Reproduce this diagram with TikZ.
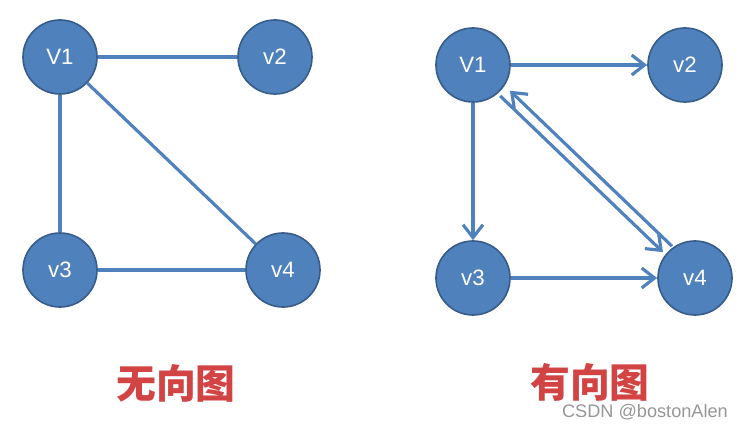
\documentclass[tikz,border=0pt]{standalone}
\usepackage{fontspec}
\setmainfont{Liberation Sans}
\newfontfamily\cjk{Noto Sans CJK SC}
\usetikzlibrary{arrows.meta,calc}
\definecolor{vfill}{RGB}{79,129,189}
\definecolor{vborder}{RGB}{56,93,138}
\definecolor{titlered}{RGB}{210,68,68}
\definecolor{markgray}{RGB}{150,150,150}
\tikzset{
  vtx/.style={circle, fill=vfill, draw=vborder, line width=1.4pt,
    minimum size=2.22cm, inner sep=0pt, text=white,
    font=\fontsize{19}{22}\selectfont},
  edge/.style={vfill, line width=2.7pt},
  arc/.style={edge, -{Straight Barb[length=11pt, width=17pt]}},
  caption/.style={titlered, font=\cjk\bfseries\fontsize{34}{40}\selectfont},
}

\begin{document}
\begin{tikzpicture}[x=0.03cm, y=-0.03cm]
    \useasboundingbox (0,0) rectangle (743,429);
    % Undirected graph
    \node[vtx] (a1) at (60,57) {V1};
    \node[vtx] (a2) at (275,57) {v2};
    \node[vtx] (a3) at (60,270) {v3};
    \node[vtx] (a4) at (283,270) {v4};
    \draw[edge] (a1) -- (a2);
    \draw[edge] (a1) -- (a3);
    \draw[edge] (a1) -- (a4);
    \draw[edge] (a3) -- (a4);
    % Directed graph
    \node[vtx] (b1) at (473,65) {V1};
    \node[vtx] (b2) at (685,65) {v2};
    \node[vtx] (b3) at (473,278) {v3};
    \node[vtx] (b4) at (695,278) {v4};
    \draw[arc] (b1) -- (b2);
    \draw[arc] (b1) -- (b3);
    \draw[arc] (b3) -- (b4);
    % Two arcs between v1 and v4, side by side
    \draw[arc, shorten <=35pt, shorten >=35pt]
      ($(b1.center)!3pt!-90:(b4.center)$) -- ($(b4.center)!3pt!90:(b1.center)$);
    \draw[arc, shorten <=33pt, shorten >=38pt]
      ($(b4.center)!6pt!-90:(b1.center)$) -- ($(b1.center)!6pt!90:(b4.center)$);
    % Captions
    \node[caption] (t1) at (176,383) {无向图};
    \node[caption] (t2) at (590,382) {有向图};
    \node[markgray, anchor=east, font=\fontsize{15.5}{18}\selectfont] (mark) at (732,412) {CSDN @bostonAlen};
\end{tikzpicture}
\end{document}
